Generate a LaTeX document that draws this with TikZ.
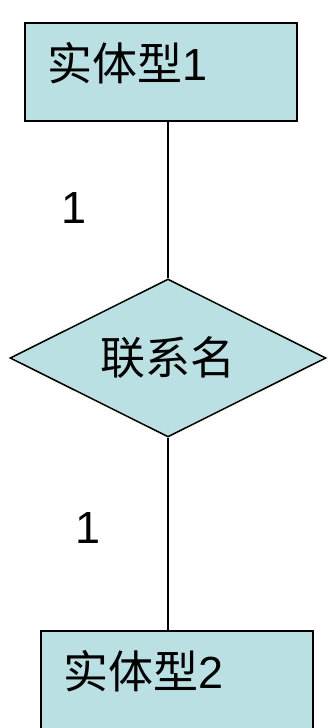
\documentclass[tikz,border=0pt]{standalone}
\usepackage{fontspec}
\setmainfont{Liberation Sans}
\newfontfamily\cjk{Noto Sans CJK SC}
\usetikzlibrary{shapes.geometric}
\definecolor{boxfill}{RGB}{187,224,227}
\definecolor{ink}{RGB}{0,0,0}

\begin{document}
\begin{tikzpicture}[x=1pt,y=-1pt,
    entity/.style={draw=ink,fill=boxfill,line width=1.5pt,
      minimum width=272pt,minimum height=98pt,inner sep=0pt},
    relation/.style={diamond,aspect=2,draw=ink,fill=boxfill,line width=1.5pt,
      minimum width=316pt,minimum height=158pt,inner sep=0pt,
      font=\fontsize{45}{50}\selectfont\cjk},
    bigtext/.style={inner sep=0pt,font=\fontsize{45}{50}\selectfont},
    link/.style={draw=ink,line width=1.5pt}]
  \useasboundingbox (0,0) rectangle (329,728);
  % entities and relationship
  \node[entity] (ent1) at (161,72) {};
  \node[bigtext,anchor=base west] (ent1txt) at (47,80) {{\cjk 实体型}1};
  \node[relation] (rel) at (168,358) {联系名};
  \node[entity] (ent2) at (177,680) {};
  \node[bigtext,anchor=base west] (ent2txt) at (63,688) {{\cjk 实体型}2};
  % connectors
  \draw[link] (rel.north) -- (rel.north |- ent1.south);
  \draw[link] (rel.south) -- (rel.south |- ent2.north);
  % cardinalities
  \node[bigtext,anchor=base] (card1) at (74,223) {1};
  \node[bigtext,anchor=base] (card2) at (88,543) {1};
\end{tikzpicture}
\end{document}
